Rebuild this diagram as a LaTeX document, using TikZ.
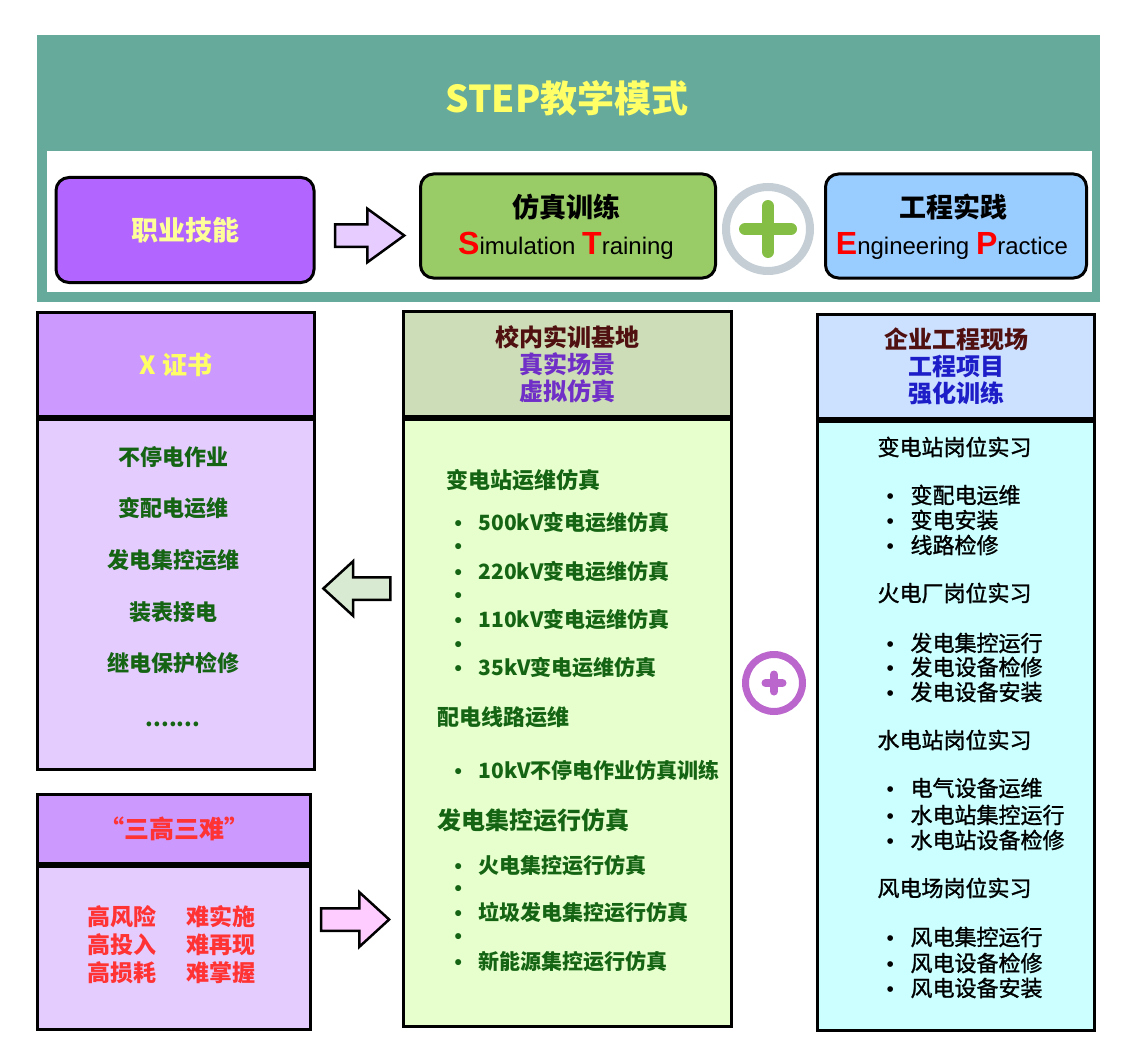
\documentclass[tikz,border=0pt]{standalone}
\usepackage{fontspec}
\setmainfont{Noto Sans CJK SC}
\newfontfamily\latinfont{Liberation Sans}
\newfontfamily\sitefont{Noto Sans CJK SC}[FakeBold=1.3]
\usetikzlibrary{shapes.arrows,positioning}

\definecolor{bandteal}{RGB}{102,170,155}
\definecolor{titleyellow}{RGB}{255,255,102}
\definecolor{skillpurple}{RGB}{178,102,255}
\definecolor{skilltext}{RGB}{255,255,153}
\definecolor{simgreen}{RGB}{153,204,102}
\definecolor{engblue}{RGB}{153,204,255}
\definecolor{ringgray}{RGB}{196,206,212}
\definecolor{plusgreen}{RGB}{132,190,68}
\definecolor{headpurple}{RGB}{204,153,255}
\definecolor{bodypurple}{RGB}{229,204,255}
\definecolor{headgreen}{RGB}{204,221,183}
\definecolor{bodygreen}{RGB}{230,255,204}
\definecolor{headblue}{RGB}{204,224,255}
\definecolor{bodycyan}{RGB}{204,255,255}
\definecolor{itemgreen}{RGB}{20,100,20}
\definecolor{darkmaroon}{RGB}{80,16,16}
\definecolor{violettext}{RGB}{112,48,200}
\definecolor{projblue}{RGB}{30,30,200}
\definecolor{hardred}{RGB}{255,51,51}
\definecolor{ringpurple}{RGB}{187,102,204}
\definecolor{arrowlav}{RGB}{230,204,255}
\definecolor{arrowsage}{RGB}{217,234,211}
\definecolor{arrowpink}{RGB}{255,204,255}

\begin{document}
\begin{tikzpicture}[x=1pt,y=-1pt,
    topbox/.style={draw,line width=3pt,rounded corners=13pt,inner sep=0pt},
    boxtitle/.style={font=\bfseries\fontsize{27}{30}\selectfont},
    boxsub/.style={font=\latinfont\fontsize{24}{26}\selectfont},
    panelhead/.style={draw,line width=3pt,inner sep=0pt,align=center},
    panelbody/.style={draw,line width=3pt,inner sep=0pt},
    blockarrow/.style={single arrow,draw,line width=2.5pt,inner sep=0pt,text height=20pt,text depth=0pt,single arrow head indent=0pt},
    xitem/.style={text=itemgreen,font=\bfseries\fontsize{22}{26}\selectfont},
    simitem/.style={text=itemgreen,font=\bfseries\fontsize{21}{26}\selectfont,anchor=west},
    simhead/.style={text=itemgreen,font=\bfseries\fontsize{22}{26}\selectfont,anchor=west},
    siteitem/.style={font=\sitefont\fontsize{22}{26}\selectfont,anchor=west},
    hardtext/.style={text=hardred,align=center,font=\bfseries\fontsize{23}{28}\selectfont}]
    \providecommand{\redcap}[1]{\textcolor{red}{\bfseries\fontsize{32}{32}\selectfont #1}}
    \providecommand{\dotmark}{\makebox[24pt][l]{\latinfont\fontsize{21}{26}\selectfont •}}
    \fill[white] (0,0) rectangle (1133,1062);
    \useasboundingbox (0,0) rectangle (1133,1062);
    % top band
    \fill[bandteal] (37,35) rectangle (1100,302);
    \fill[white] (47,151) rectangle (1092,292);
    \node[text=titleyellow,font=\bfseries\fontsize{37}{40}\selectfont] (title) at (567,98) {STEP教学模式};
    \node[topbox,fill=skillpurple,minimum width=258,minimum height=105,text=skilltext,font=\bfseries\fontsize{27}{30}\selectfont] (skill) at (185,230) {职业技能};
    \node[topbox,fill=simgreen,minimum width=295,minimum height=104] (sim) at (568,226) {};
    \node[boxtitle] (simcn) at (566,207) {仿真训练};
    \node[boxsub] (simen) at (566,246) {\redcap{S}imulation \redcap{T}raining};
    \node[circle,draw=ringgray,line width=8pt,minimum size=84,inner sep=0pt] (plus) at (768,229) {};
    \draw[plusgreen,line width=12pt,line cap=round] ([yshift=-23]plus.center) -- ([yshift=23]plus.center);
    \draw[plusgreen,line width=12pt,line cap=round] ([xshift=-23]plus.center) -- ([xshift=23]plus.center);
    \node[topbox,fill=engblue,minimum width=261,minimum height=104] (eng) at (956,226) {};
    \node[boxtitle] (engcn) at (953,207) {工程实践};
    \node[boxsub] (engen) at (952,246) {\redcap{E}ngineering \redcap{P}ractice};
    \node[blockarrow,fill=arrowlav,minimum height=69,single arrow head extend=15.5pt,single arrow tip angle=72] (toarrow) at (362,235.5) {};

    % X certificate
    \node[panelhead,fill=headpurple,minimum width=277,minimum height=104,anchor=north west,text=titleyellow,font=\bfseries\fontsize{25}{28}\selectfont] (xhead) at (36,311) {X 证书};
    \node[panelbody,fill=bodypurple,minimum width=277,minimum height=350,anchor=north] (xbody) at (xhead.south) {};
    \node[xitem] (x1) at (173,457) {不停电作业};
    \node[xitem] (x2) at (173,508) {变配电运维};
    \node[xitem] (x3) at (173,560) {发电集控运维};
    \node[xitem] (x4) at (173,612) {装表接电};
    \node[xitem] (x5) at (173,663) {继电保护检修};
    \node[xitem] (x6) at (173,724) {.......};

    % three highs
    \node[panelhead,fill=headpurple,minimum width=273,minimum height=69,anchor=north west,text=hardred,font=\bfseries\fontsize{25}{28}\selectfont] (hardhead) at (36,793) {“三高三难”};
    \node[panelbody,fill=bodypurple,minimum width=273,minimum height=163,anchor=north] (hardbody) at (hardhead.south) {};
    \node[hardtext] (highs) at (122,945) {高风险\\高投入\\高损耗};
    \node[hardtext] (hards) at (221,945) {难实施\\难再现\\难掌握};

    % campus base
    \node[panelhead,fill=headgreen,minimum width=328,minimum height=105,anchor=north west,font=\bfseries\fontsize{24}{27}\selectfont] (basehead) at (402,310) {\textcolor{darkmaroon}{校内实训基地}\\\textcolor{violettext}{真实场景}\\\textcolor{violettext}{虚拟仿真}};
    \node[panelbody,fill=bodygreen,minimum width=328,minimum height=607,anchor=north] (basebody) at (basehead.south) {};
    \node[simhead] (sub) at (443,480) {变电站运维仿真};
    \node[simitem] (sub1) at (451,523) {\dotmark 500kV变电运维仿真};
    \node[simitem] (sub2) at (451,549) {\dotmark};
    \node[simitem] (sub3) at (451,572) {\dotmark 220kV变电运维仿真};
    \node[simitem] (sub4) at (451,598) {\dotmark};
    \node[simitem] (sub5) at (451,620) {\dotmark 110kV变电运维仿真};
    \node[simitem] (sub6) at (451,647) {\dotmark};
    \node[simitem] (sub7) at (451,668) {\dotmark 35kV变电运维仿真};
    \node[simhead] (line) at (434,717) {配电线路运维};
    \node[simitem] (line1) at (451,770) {\dotmark 10kV不停电作业仿真训练};
    \node[simhead,font=\bfseries\fontsize{24}{28}\selectfont] (gen) at (434,820) {发电集控运行仿真};
    \node[simitem] (gen1) at (451,866) {\dotmark 火电集控运行仿真};
    \node[simitem] (gen2) at (451,891) {\dotmark};
    \node[simitem] (gen3) at (451,913) {\dotmark 垃圾发电集控运行仿真};
    \node[simitem] (gen4) at (451,939) {\dotmark};
    \node[simitem] (gen5) at (451,962) {\dotmark 新能源集控运行仿真};

    % enterprise site
    \node[panelhead,fill=headblue,minimum width=277,minimum height=104,anchor=north west,font=\bfseries\fontsize{24}{27}\selectfont] (sitehead) at (816,313) {\textcolor{darkmaroon}{企业工程现场}\\\textcolor{projblue}{工程项目}\\\textcolor{projblue}{强化训练}};
    \node[panelbody,fill=bodycyan,minimum width=277,minimum height=609,anchor=north] (sitebody) at (sitehead.south) {};
    \node[siteitem] (sub) at (874,447) {变电站岗位实习};
    \node[siteitem] (sub1) at (883,495) {\dotmark 变配电运维};
    \node[siteitem] (sub2) at (883,520) {\dotmark 变电安装};
    \node[siteitem] (sub3) at (883,545) {\dotmark 线路检修};
    \node[siteitem] (fire) at (874,593) {火电厂岗位实习};
    \node[siteitem] (fire1) at (883,643) {\dotmark 发电集控运行};
    \node[siteitem] (fire2) at (883,667) {\dotmark 发电设备检修};
    \node[siteitem] (fire3) at (883,692) {\dotmark 发电设备安装};
    \node[siteitem] (hydro) at (874,740) {水电站岗位实习};
    \node[siteitem] (hydro1) at (883,788) {\dotmark 电气设备运维};
    \node[siteitem] (hydro2) at (883,815) {\dotmark 水电站集控运行};
    \node[siteitem] (hydro3) at (883,840) {\dotmark 水电站设备检修};
    \node[siteitem] (wind) at (874,888) {风电场岗位实习};
    \node[siteitem] (wind1) at (883,937) {\dotmark 风电集控运行};
    \node[siteitem] (wind2) at (883,963) {\dotmark 风电设备检修};
    \node[siteitem] (wind3) at (883,988) {\dotmark 风电设备安装};

    % arrows and join
    \node[blockarrow,fill=arrowsage,minimum height=67,single arrow head extend=16pt,single arrow tip angle=85,shape border rotate=180] (backarrow) at (363,588.5) {};
    \node[blockarrow,fill=arrowpink,minimum height=68,single arrow head extend=16pt,single arrow tip angle=85] (intoarrow) at (349,919.5) {};
    \node[circle,draw=ringpurple,line width=7pt,minimum size=57,inner sep=0pt] (join) at (774,683) {};
    \draw[ringpurple,line width=8pt,line cap=round] ([xshift=-8.5]join.center) -- ([xshift=8.5]join.center);
    \draw[ringpurple,line width=8pt,line cap=round] ([yshift=-8.5]join.center) -- ([yshift=8.5]join.center);
\end{tikzpicture}
\end{document}
